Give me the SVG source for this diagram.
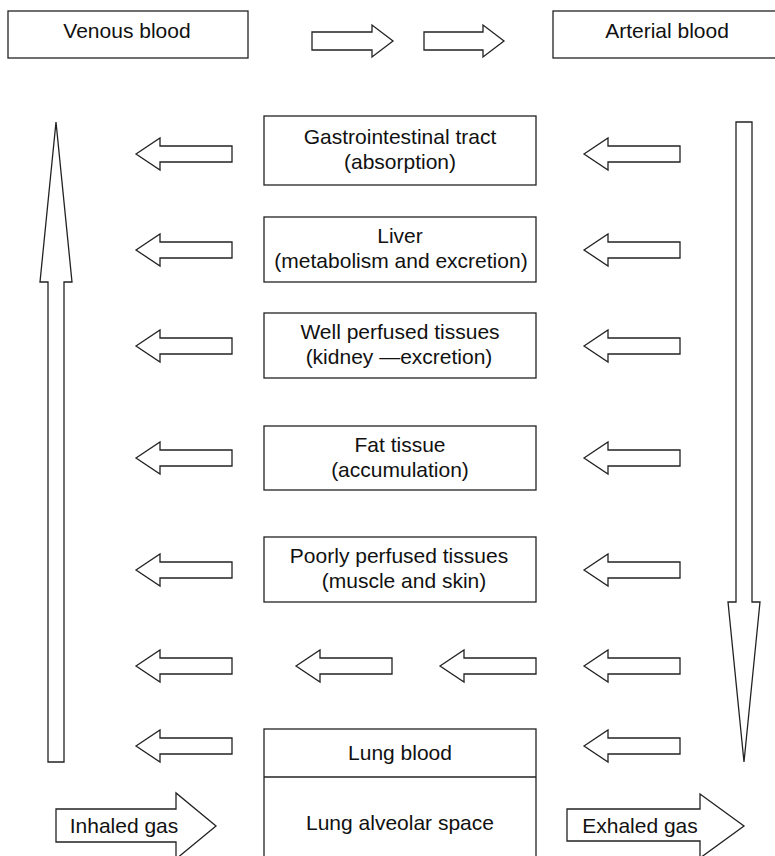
<svg xmlns="http://www.w3.org/2000/svg" width="775" height="856" viewBox="0 0 775 856">
<style>
.b{fill:#fff;stroke:#222;stroke-width:1.3}
.a{fill:#fff;stroke:#222;stroke-width:1.3;stroke-linejoin:miter}
text{font-family:"Liberation Sans",Arial,Helvetica,sans-serif;font-size:21px;fill:#111;text-anchor:middle}
</style>
<defs>
<path id="la" d="M0,0 L24,-16 L24,-8 L96,-8 L96,8 L24,8 L24,16 Z"/>
</defs>
<rect width="775" height="856" fill="#fff"/>
<g id="venous"><rect class="b" x="8" y="11" width="240" height="47"/><text x="127" y="38">Venous blood</text></g>
<g id="arterial"><rect class="b" x="553" y="11" width="230" height="47"/><text x="667" y="38">Arterial blood</text></g>
<g id="gi"><rect class="b" x="264" y="116" width="272" height="69"/><text x="400" y="144">Gastrointestinal tract</text><text x="400" y="169">(absorption)</text></g>
<g id="liver"><rect class="b" x="264" y="217" width="272" height="65"/><text x="400" y="243">Liver</text><text x="401" y="268">(metabolism and excretion)</text></g>
<g id="well"><rect class="b" x="264" y="313" width="272" height="65"/><text x="400" y="339">Well perfused tissues</text><text x="399" y="364">(kidney —excretion)</text></g>
<g id="fat"><rect class="b" x="264" y="426" width="272" height="64"/><text x="400" y="452">Fat tissue</text><text x="400" y="477">(accumulation)</text></g>
<g id="poor"><rect class="b" x="264" y="537" width="272" height="65"/><text x="399" y="563">Poorly perfused tissues</text><text x="404" y="588">(muscle and skin)</text></g>
<g id="lung"><rect class="b" x="264" y="729" width="272" height="140"/><line class="b" x1="264" y1="777" x2="536" y2="777"/><text x="400" y="760">Lung blood</text><text x="400" y="830">Lung alveolar space</text></g>
<g id="inhaled"><path class="a" d="M56,809 L176,809 L176,793 L216,826 L176,859 L176,842 L56,842 Z"/><text x="124" y="833">Inhaled gas</text></g>
<g id="exhaled"><path class="a" d="M567,809 L700,809 L700,794 L744,826 L700,858 L700,841 L567,841 Z"/><text x="640" y="833">Exhaled gas</text></g>
<g id="connectors">
<path class="a" d="M312,32 L372,32 L372,25 L393,41 L372,57 L372,50 L312,50 Z"/>
<path class="a" d="M424,32 L483,32 L483,25 L504,41 L483,57 L483,50 L424,50 Z"/>
<path class="a" d="M56,122 L72,282 L64,282 L64,762 L48,762 L48,282 L40,282 Z"/>
<path class="a" d="M736,122 L752,122 L752,602 L760,602 L744,762 L728,602 L736,602 Z"/>
<use class="a" href="#la" x="136" y="154"/>
<use class="a" href="#la" x="136" y="250"/>
<use class="a" href="#la" x="136" y="346"/>
<use class="a" href="#la" x="136" y="458"/>
<use class="a" href="#la" x="136" y="570"/>
<use class="a" href="#la" x="136" y="666"/>
<use class="a" href="#la" x="136" y="746"/>
<use class="a" href="#la" x="584" y="154"/>
<use class="a" href="#la" x="584" y="250"/>
<use class="a" href="#la" x="584" y="346"/>
<use class="a" href="#la" x="584" y="458"/>
<use class="a" href="#la" x="584" y="570"/>
<use class="a" href="#la" x="584" y="666"/>
<use class="a" href="#la" x="584" y="746"/>
<use class="a" href="#la" x="296" y="666"/>
<use class="a" href="#la" x="440" y="666"/>
</g>
</svg>
